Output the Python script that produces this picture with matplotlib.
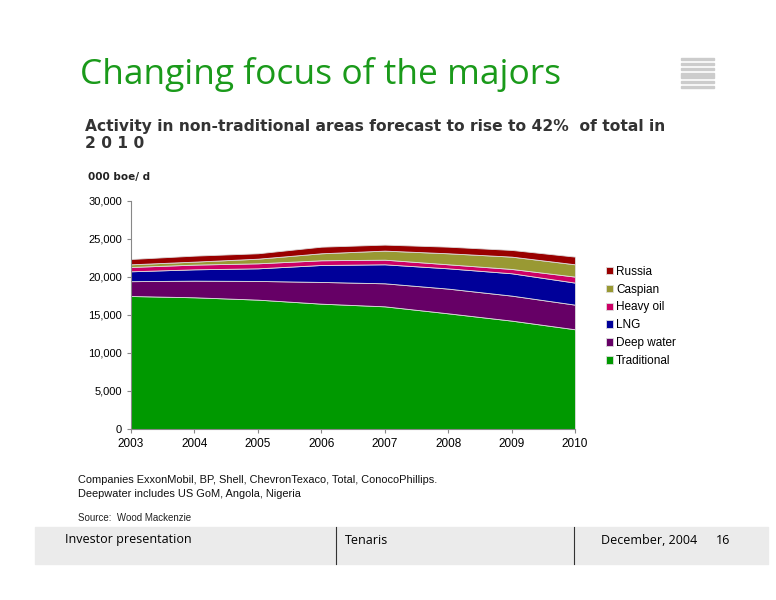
import matplotlib.pyplot as plt
from matplotlib.patches import Rectangle

plt.rcParams['font.family'] = ['Liberation Sans', 'DejaVu Sans']

years = [2003, 2004, 2005, 2006, 2007, 2008, 2009, 2010]
traditional = [17500, 17330, 17020, 16490, 16140, 15220, 14260, 13120]
deep_water = [1950, 2190, 2460, 2860, 3030, 3250, 3290, 3240]
lng = [1300, 1490, 1660, 2230, 2500, 2670, 2940, 2900]
heavy_oil = [570, 620, 660, 620, 610, 530, 570, 790]
caspian = [350, 390, 610, 920, 1190, 1450, 1620, 1620]
russia = [700, 790, 710, 870, 790, 870, 880, 1010]

names = ['Traditional', 'Deep water', 'LNG', 'Heavy oil', 'Caspian', 'Russia']
colors = ['#009900', '#660066', '#000099', '#cc0066', '#999933', '#990000']
yticks = [0, 5000, 10000, 15000, 20000, 25000, 30000]

fig = plt.figure(figsize=(7.76, 6), dpi=100)
ax = fig.add_axes([131/776, 1-429/600, 444/776, 228/600])

polys = ax.stackplot(years, traditional, deep_water, lng, heavy_oil, caspian, russia,
                     labels=names, colors=colors, edgecolor='#dddddd', linewidth=0.6)

ax.set_xlim(2003, 2010)
ax.set_ylim(0, 30000)
ax.set_xticks(years)
ax.set_yticks(yticks)
ax.set_yticklabels(['{:,}'.format(v) for v in yticks])
ax.tick_params(labelsize=8.5, length=3, color='#888888')
ax.tick_params(axis='y', labelsize=8)
for s in ['top', 'right']:
    ax.spines[s].set_visible(False)
for s in ['left', 'bottom']:
    ax.spines[s].set_color('#888888')

handles, labels = ax.get_legend_handles_labels()
leg = fig.legend(handles[::-1], labels[::-1], loc='upper left', bbox_to_anchor=(595/776, 1-255/600),
                 frameon=False, fontsize=8.5, handlelength=0.6, handleheight=0.6,
                 handletextpad=0.3, labelspacing=0.5)

# titles
fig.text(80/776, 1-75/600, 'Changing focus of the majors', color='#1a9a1a',
         fontsize=25.5, family='Open Sans', va='center')
fig.text(85/776, 1-126/600, 'Activity in non-traditional areas forecast to rise to 42%  of total in',
         color='#333333', fontsize=11.2, fontweight='bold', family='DejaVu Sans', va='center')
fig.text(85/776, 1-144/600, '2 0 1 0', color='#333333', fontsize=11.2, fontweight='bold',
         family='DejaVu Sans', va='center')
fig.text(88/776, 1-177/600, '000 boe/ d', color='#222222', fontsize=7.5, fontweight='bold',
         family='DejaVu Sans', va='center')

fig.text(78/776, 1-480/600, 'Companies ExxonMobil, BP, Shell, ChevronTexaco, Total, ConocoPhillips.',
         fontsize=7.9, va='center', color='#111111')
fig.text(78/776, 1-494/600, 'Deepwater includes US GoM, Angola, Nigeria', fontsize=7.9, va='center', color='#111111')
fig.text(78/776, 1-518/600, 'Source:  Wood Mackenzie', fontsize=7, va='center', color='#222222')

# footer
fig.patches.append(Rectangle((35/776, 1-564/600), 733/776, 37/600, transform=fig.transFigure,
                             color='#ebebeb', zorder=0))
for xv in [336, 574]:
    fig.lines.append(plt.Line2D([xv/776, xv/776], [1-564/600, 1-527/600], transform=fig.transFigure,
                                color='#333333', linewidth=0.8))
fig.text(65/776, 1-540/600, 'Investor presentation', fontsize=9, family='Open Sans', va='center')
fig.text(345/776, 1-540/600, 'Tenaris', fontsize=9, family='Open Sans', va='center')
fig.text(697/776, 1-540/600, 'December, 2004', fontsize=9, family='Open Sans', va='center', ha='right')
fig.text(716/776, 1-540/600, '16', fontsize=9, family='Open Sans', va='center')

# corner stripes
for y0, h in [(58, 2), (63, 2), (68, 2), (73, 5), (81, 2), (86, 2)]:
    fig.patches.append(Rectangle((681/776, 1-(y0+h)/600), 33/776, h/600, transform=fig.transFigure,
                                 color='#cccccc', zorder=0))

plt.savefig('out.png', dpi=100)
